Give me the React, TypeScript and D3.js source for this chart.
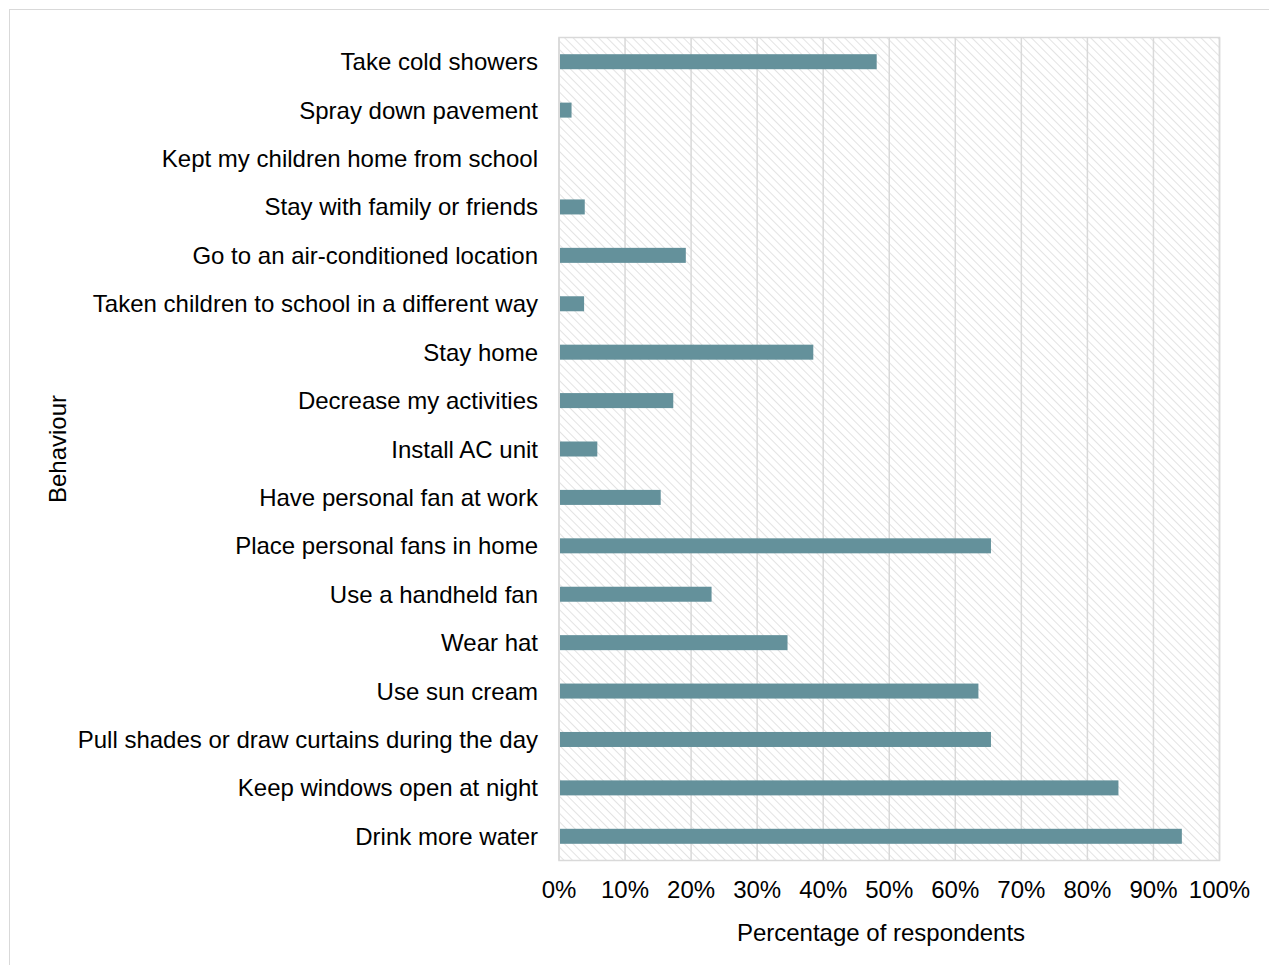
import React from "react";
import * as d3 from "d3";

const categories = [
  "Take cold showers",
  "Spray down pavement",
  "Kept my children home from school",
  "Stay with family or friends",
  "Go to an air-conditioned location",
  "Taken children to school in a different way",
  "Stay home",
  "Decrease my activities",
  "Install AC unit",
  "Have personal fan at work",
  "Place personal fans in home",
  "Use a handheld fan",
  "Wear hat",
  "Use sun cream",
  "Pull shades or draw curtains during the day",
  "Keep windows open at night",
  "Drink more water",
];
const values = [48.1, 1.9, 0, 3.9, 19.2, 3.8, 38.5, 17.3, 5.8, 15.4, 65.4, 23.1, 34.6, 63.5, 65.4, 84.7, 94.3];
const ticks = [0, 10, 20, 30, 40, 50, 60, 70, 80, 90, 100];

const W = 1269;
const H = 965;
const left = 559;
const right = 1219.5;
const top = 37.5;
const bottom = 860.5;
const FONT = "'Liberation Sans', Arial, sans-serif";
const FS = 24;

export default function App() {
  const x = d3.scaleLinear().domain([0, 100]).range([left, right]);
  const y = d3.scaleBand<string>().domain(categories).range([top, bottom]).paddingInner(0.69).paddingOuter(0.345);
  return (
    <svg width={W} height={H} style={{ position: "absolute", left: 0, top: 0, background: "#fff" }}>
      <defs>
        <pattern id="hatch" width={6} height={6} patternUnits="userSpaceOnUse" patternTransform="rotate(-45)">
          <line x1={0} y1={0} x2={0} y2={6} stroke="#e3e3e3" strokeWidth={2} />
        </pattern>
      </defs>
      <rect x={9.5} y={9.5} width={W + 10} height={H + 10} fill="none" stroke="#d9d9d9" strokeWidth={1} />
      <rect x={left} y={top} width={right - left} height={bottom - top} fill="url(#hatch)" />
      {ticks.map((t) => (
        <line key={t} x1={x(t)} x2={x(t)} y1={top} y2={bottom} stroke="#d9d9d9" strokeWidth={1.5} />
      ))}
      <rect x={left} y={top} width={right - left} height={bottom - top} fill="none" stroke="#d9d9d9" strokeWidth={1.5} />
      {categories.map((c, i) => (
        <rect key={c} x={x(0) + 1} y={y(c)!} width={Math.max(0, x(values[i]) - x(0) - 1)} height={y.bandwidth()} fill="#64919b" />
      ))}
      {categories.map((c) => (
        <text key={c} x={538} y={y(c)! + y.bandwidth() / 2 + 8.5} textAnchor="end" fontFamily={FONT} fontSize={FS} fill="#000">
          {c}
        </text>
      ))}
      {ticks.map((t) => (
        <text key={t} x={x(t)} y={898} textAnchor="middle" fontFamily={FONT} fontSize={FS} fill="#000">
          {t}%
        </text>
      ))}
      <text x={881} y={941} textAnchor="middle" fontFamily={FONT} fontSize={FS} fill="#000">
        Percentage of respondents
      </text>
      <text transform={`translate(66,${(top + bottom) / 2}) rotate(-90)`} textAnchor="middle" fontFamily={FONT} fontSize={FS} fill="#000">
        Behaviour
      </text>
    </svg>
  );
}
